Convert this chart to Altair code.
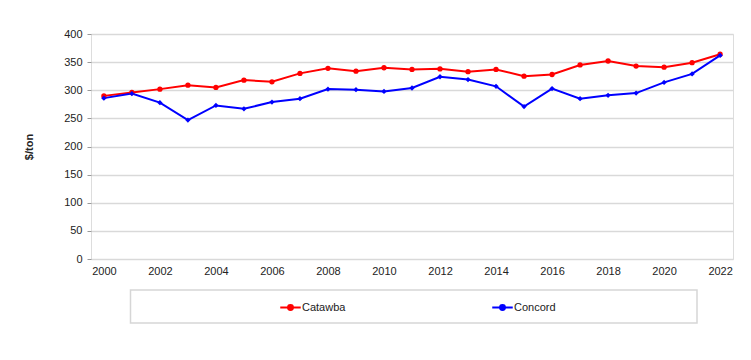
import altair as alt
import pandas as pd

years = list(range(2000, 2023))
catawba = [290, 296, 302, 309, 305, 318, 315, 330, 339, 334, 340, 337, 338, 333, 337,
           325, 328, 345, 352, 343, 341, 349, 364]
concord = [286, 294, 278, 247, 273, 267, 279, 285, 302, 301, 298, 304, 324, 319, 307,
           271, 303, 285, 291, 295, 314, 329, 362]
series = ["Catawba", "Concord"]
colors = ["#ff0000", "#0000ff"]
shapes = ["circle", "diamond"]
x_ticks = list(range(2000, 2023, 2))
y_ticks = list(range(0, 401, 50))

df = pd.DataFrame(
    [{"year": y, "value": v, "series": "Catawba"} for y, v in zip(years, catawba)]
    + [{"year": y, "value": v, "series": "Concord"} for y, v in zip(years, concord)]
)

FONT = "Liberation Sans"

x = alt.X("year:Q", scale=alt.Scale(domain=[1999.54, 2022.46], nice=False, zero=False),
          axis=alt.Axis(values=x_ticks, format="d", title=None, grid=False, ticks=False,
                        domain=False, labelPadding=6, labelFontSize=11, labelColor="#222",
                        labelFont=FONT))
y = alt.Y("value:Q", scale=alt.Scale(domain=[0, 400], nice=False),
          axis=alt.Axis(values=y_ticks, title="$/ton", titleFont=FONT, titleFontSize=11,
                        titleFontWeight="bold", titleColor="#222", titlePadding=29,
                        labelFont=FONT, labelFontSize=11, labelColor="#222", labelPadding=5,
                        tickSize=4, tickColor="#999", domain=False, gridColor="#d9d9d9",
                        gridWidth=1.3))
color = alt.Color("series:N", scale=alt.Scale(domain=series, range=colors),
                  legend=alt.Legend(title=None, orient="none", legendX=188, legendY=262,
                                    direction="horizontal", columnPadding=142,
                                    symbolType="M-1,0L1,0M-0.24,0A0.24,0.24 0 1,1 0.24,0A0.24,0.24 0 1,1 -0.24,0",
                                    symbolSize=420, symbolStrokeWidth=2, labelFont=FONT,
                                    labelFontSize=11, labelColor="#222", labelOffset=0,
                                    symbolOpacity=1))

box = alt.Chart(alt.Data(values=[{}])).mark_rect(
    fill="white", stroke="#d6d6d6", strokeWidth=1.5
).encode(x=alt.value(39.5), x2=alt.value(606), y=alt.value(256), y2=alt.value(289))

lines = alt.Chart(df).mark_line(strokeWidth=2).encode(x=x, y=y, color=color)

point_layers = [
    alt.Chart(df).transform_filter(alt.datum.series == s).mark_point(
        filled=True, size=28, opacity=1, shape=sh
    ).encode(x=x, y=y, color=color)
    for s, sh in zip(series, shapes)
]

chart = alt.layer(box, lines, *point_layers).properties(
    width=642, height=225,
    autosize=alt.AutoSizeParams(type="none"),
    padding={"left": 83, "top": 26, "right": 10, "bottom": 93},
).configure_view(stroke="#999", strokeWidth=1.5).configure(background="white")

chart.save("out.html", embed_options={"renderer": "svg", "actions": False})
